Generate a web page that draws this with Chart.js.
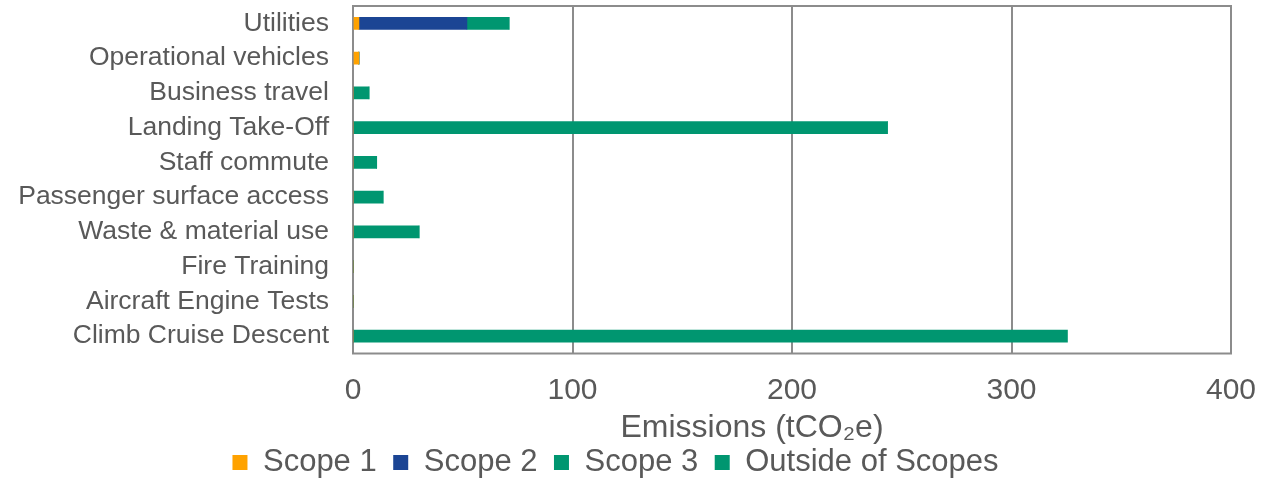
<!DOCTYPE html>
<html>
<head>
<meta charset="utf-8">
<script src="https://cdn.jsdelivr.net/npm/chart.js@4.4.0/dist/chart.umd.min.js"></script>
<style>
  html, body { margin: 0; padding: 0; background: #fff; }
  #wrap { width: 1263px; height: 480px; position: relative; }
</style>
</head>
<body>
<div id="wrap"><canvas id="emissions-chart"></canvas></div>
<script>
// Emission sources (top to bottom)
const categories = [
  'Utilities', 'Operational vehicles', 'Business travel', 'Landing Take-Off',
  'Staff commute', 'Passenger surface access', 'Waste & material use',
  'Fire Training', 'Aircraft Engine Tests', 'Climb Cruise Descent'
];

// tCO2e per scope
const scope1 = [2.7, 2.7, 0, 0, 0, 0, 0, 0, 0, 0];
const scope2 = [49.2, 0, 0, 0, 0, 0, 0, 0, 0, 0];
const scope3 = [19.2, 0, 7.3, 243.5, 10.8, 13.7, 30.1, 0, 0, 0];
const outsideScopes = [0, 0, 0, 0, 0, 0, 0, 0, 0, 325.5];

const xTicks = [0, 100, 200, 300, 400];

const textColor = '#595959';
const fontFamily = '"Liberation Sans", Arial, sans-serif';

// plot area border (Excel style frame)
const frame = {
  id: 'frame',
  beforeDatasetsDraw(chart) {
    const a = chart.chartArea;
    const ctx = chart.ctx;
    ctx.save();
    ctx.strokeStyle = '#8c8c8c';
    ctx.lineWidth = 2;
    ctx.strokeRect(a.left, a.top, a.right - a.left, a.bottom - a.top);
    ctx.restore();
  }
};

new Chart(document.getElementById('emissions-chart'), {
  type: 'bar',
  data: {
    labels: categories,
    datasets: [
      { label: 'Scope 1', data: scope1, backgroundColor: '#FFA200' },
      { label: 'Scope 2', data: scope2, backgroundColor: '#1B4594' },
      { label: 'Scope 3', data: scope3, backgroundColor: '#009670' },
      { label: 'Outside of Scopes', data: outsideScopes, backgroundColor: '#009670' }
    ]
  },
  options: {
    indexAxis: 'y',
    responsive: true,
    maintainAspectRatio: false,
    animation: false,
    barThickness: 12,
    layout: { padding: { top: 6, right: 32, left: 0, bottom: -8 } },
    plugins: {
      legend: {
        position: 'bottom',
        labels: {
          boxWidth: 15,
          boxHeight: 15,
          padding: 16.5,
          color: textColor,
          font: { family: fontFamily, size: 31 }
        }
      },
      tooltip: { enabled: false }
    },
    scales: {
      x: {
        stacked: true,
        min: 0,
        max: 400,
        afterBuildTicks: (axis) => { axis.ticks = xTicks.map(v => ({ value: v })); },
        afterFit: (axis) => {
          axis.height = 77;
          axis.paddingLeft = 0;
          axis.paddingRight = 0;
        },
        ticks: {
          color: textColor,
          padding: 19,
          font: { family: fontFamily, size: 30 }
        },
        grid: { color: '#8c8c8c', lineWidth: 2, drawTicks: false },
        border: { display: false },
        title: {
          display: true,
          // trailing spaces push the centred title left, like the original
          text: 'Emissions (tCO\u2082e)' + '\u00a0'.repeat(9),
          color: textColor,
          padding: { top: 0, bottom: -16.5 },
          font: { family: fontFamily, size: 32 }
        }
      },
      y: {
        stacked: true,
        afterFit: (axis) => {
          axis.width = 353;
          axis.paddingTop = 0;
          axis.paddingBottom = 0;
        },
        ticks: {
          color: textColor,
          padding: 24,
          autoSkip: false,
          font: { family: fontFamily, size: 26.5 }
        },
        grid: { display: false, drawTicks: false },
        border: { display: true, color: '#7f7f7f', width: 2 }
      }
    }
  },
  plugins: [frame]
});
</script>
</body>
</html>
